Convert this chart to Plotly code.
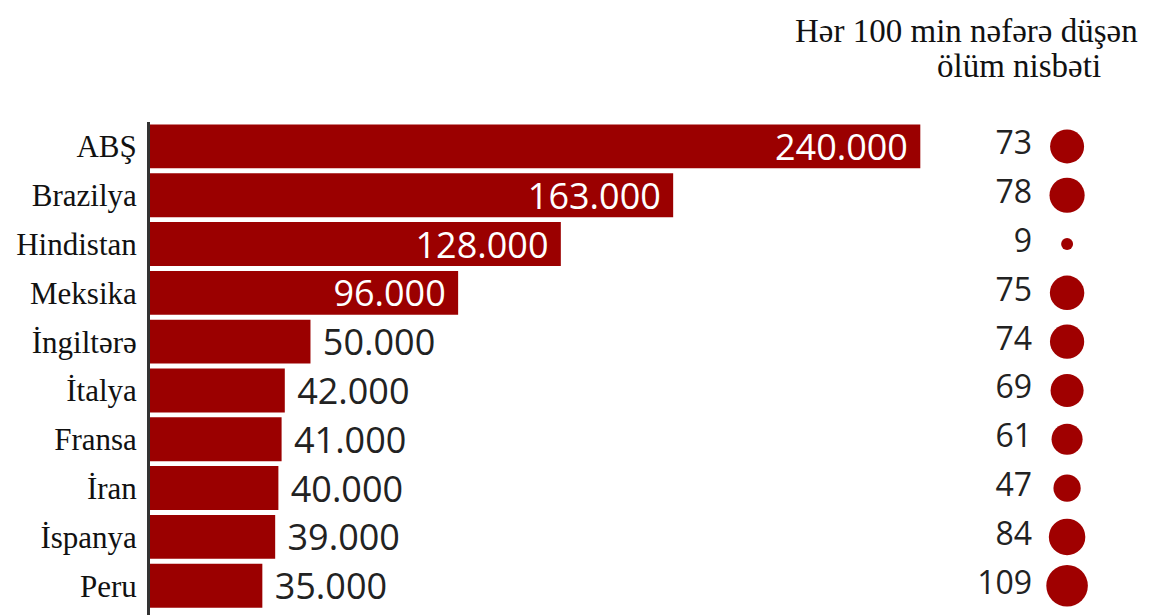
import plotly.graph_objects as go

countries = ["ABŞ", "Brazilya", "Hindistan", "Meksika", "İngiltərə", "İtalya", "Fransa", "İran", "İspanya", "Peru"]
deaths = [240000, 163000, 128000, 96000, 50000, 42000, 41000, 40000, 39000, 35000]
rate_per_100k = [73, 78, 9, 75, 74, 69, 61, 47, 84, 109]
inside_count = 4
header_line1 = "Hər 100 min nəfərə düşən"
header_line2 = "ölüm nisbəti"

RED = "#9b0000"
SERIF = "Liberation Serif, Times New Roman, serif"
SANS = "Open Sans, Noto Sans, sans-serif"

positions = ["inside" if i < inside_count else "outside" for i in range(len(deaths))]
colors = ["white" if i < inside_count else "#222222" for i in range(len(deaths))]
templates = ["%{x:,}\u00a0" if i < inside_count else "\u00a0%{x:,}" for i in range(len(deaths))]

fig = go.Figure()
fig.add_trace(go.Bar(
    x=deaths, y=countries, orientation="h",
    marker=dict(color=RED, line=dict(width=0)),
    texttemplate=templates, textposition=positions,
    insidetextanchor="end", constraintext="none",
    textfont=dict(family=SANS, size=36, color=colors),
    cliponaxis=False, hoverinfo="skip",
))
fig.add_trace(go.Scatter(
    x=[0.59] * len(countries), y=countries, mode="markers",
    marker=dict(size=rate_per_100k, sizemode="area", sizeref=2 * 73 / 34 ** 2, color="#a00000",
                opacity=1, line=dict(width=0)),
    xaxis="x2", yaxis="y", hoverinfo="skip", cliponaxis=False,
))
fig.add_trace(go.Scatter(
    x=[0.415] * len(countries), y=countries, mode="text",
    text=[str(v) for v in rate_per_100k], textposition="middle left",
    textfont=dict(family=SANS, size=32, color="#222222"),
    xaxis="x2", yaxis="y", hoverinfo="skip", cliponaxis=False,
))

# page body has an 8px default margin: figure is sized/offset to compensate
fig.update_layout(
    width=1141, height=607,
    margin=dict(l=142, r=0, t=114, b=0),
    paper_bgcolor="white", plot_bgcolor="white",
    showlegend=False, bargap=0.1,
    separators=",.",
    xaxis=dict(domain=[0, 0.8], range=[0, 249000], visible=False, fixedrange=True),
    xaxis2=dict(domain=[0.8, 1], range=[0, 1], visible=False, anchor="y"),
    yaxis=dict(autorange=False, range=[len(countries) - 0.4, -0.5],
               showline=True, linecolor="#333333", linewidth=3,
               showgrid=False, zeroline=False, ticks="", ticklabelstandoff=4,
               tickfont=dict(family=SERIF, size=31, color="#111111")),
    annotations=[
        dict(text=header_line1, xref="paper", yref="paper", x=0.991, y=1.185,
             xanchor="right", yanchor="middle", showarrow=False,
             font=dict(family=SERIF, size=33, color="#111111")),
        dict(text=header_line2, xref="paper", yref="paper", x=0.87, y=1.113,
             xanchor="center", yanchor="middle", showarrow=False,
             font=dict(family=SERIF, size=33, color="#111111")),
    ],
)

fig.write_html("out.html")
